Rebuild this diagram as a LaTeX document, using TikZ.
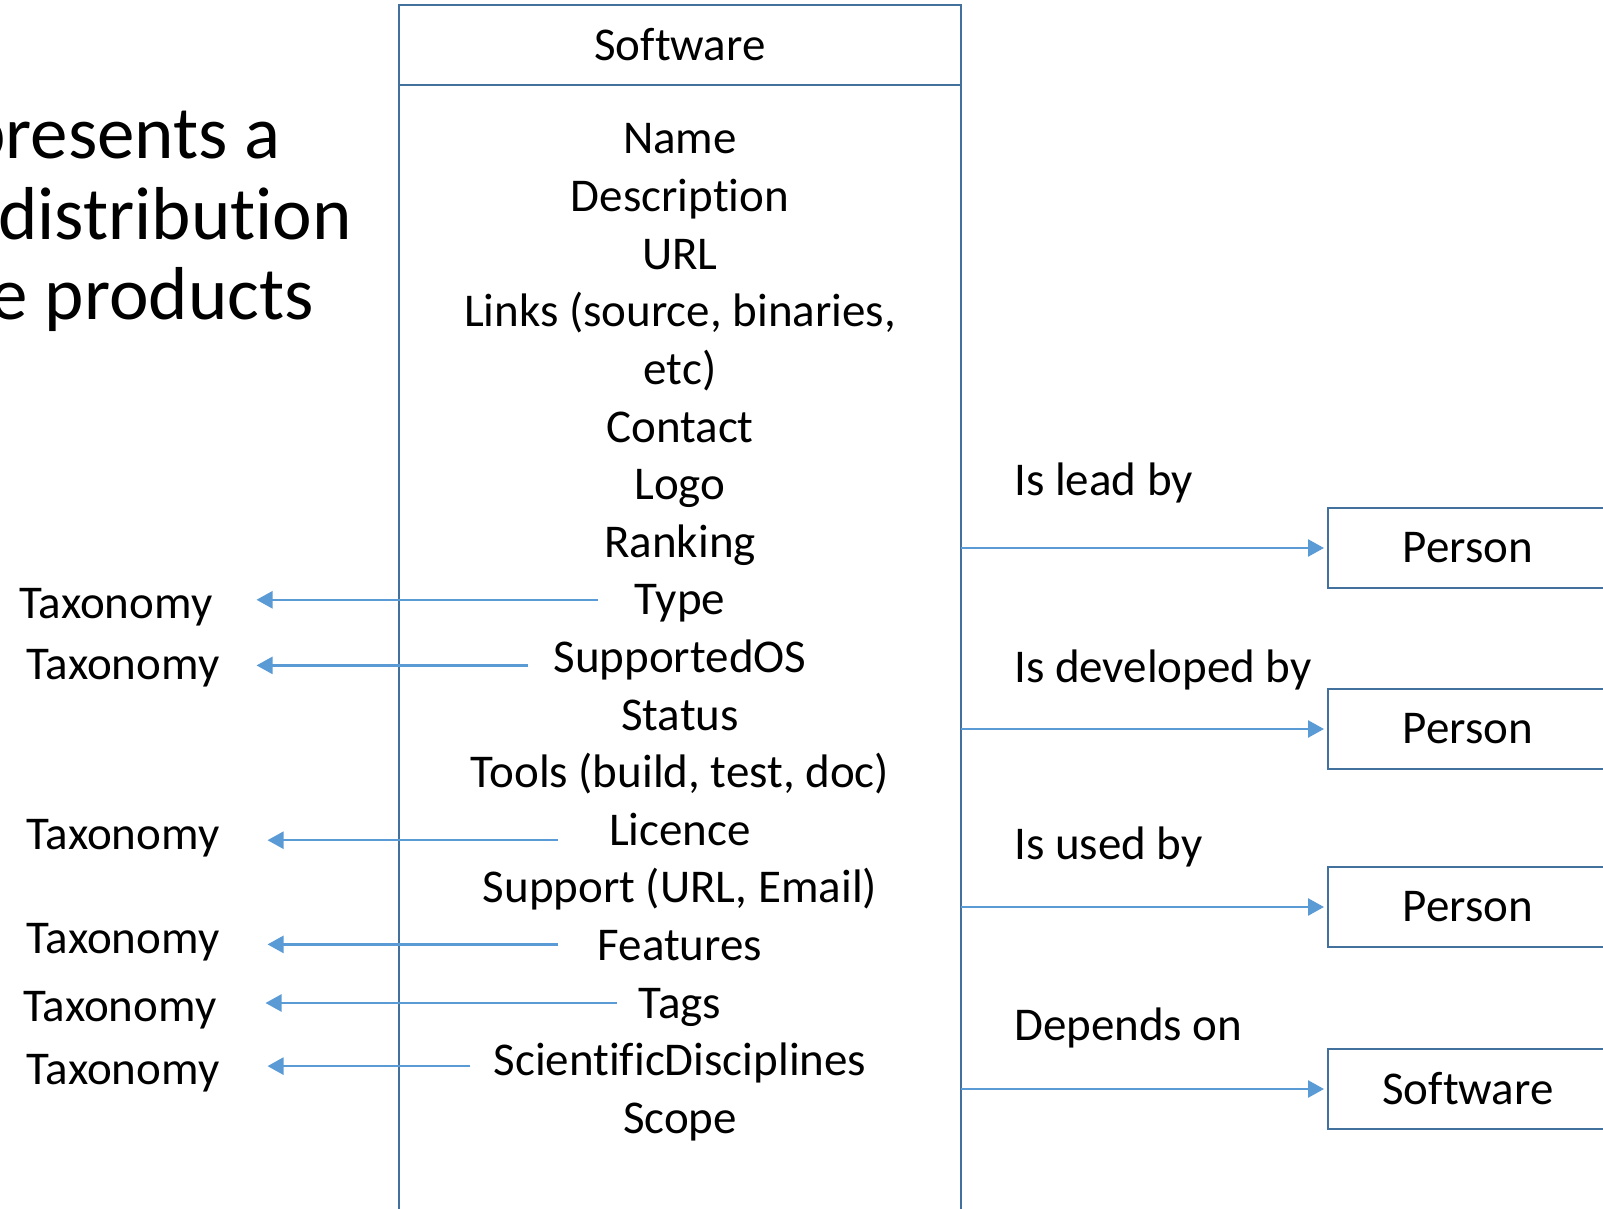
\documentclass[tikz,border=0pt]{standalone}
\usepackage{fontspec}
\setmainfont[Ligatures=NoCommon]{Carlito}
\usetikzlibrary{arrows.meta}
\definecolor{boxblue}{HTML}{41719C}
\definecolor{arrblue}{HTML}{5B9BD5}
\begin{document}
\begin{tikzpicture}[x=1pt,y=-1pt,
  item/.style={font=\fontsize{47}{56}\selectfont, inner sep=0pt, anchor=base},
  lbl/.style={font=\fontsize{47}{56}\selectfont, inner sep=0pt, anchor=base west},
  big/.style={font=\fontsize{75}{88}\selectfont, inner sep=0pt, anchor=base east},
  boxline/.style={draw=boxblue, line width=2.3pt, outer sep=0pt},
  pbox/.style={boxline, font=\fontsize{47}{56}\selectfont, minimum width=280pt, minimum height=80pt, inner sep=0pt},
  arr/.style={draw=arrblue, line width=2.5pt, -{Triangle[length=16pt,width=17pt]}}
]
\useasboundingbox (0,0) rectangle (1603,1209);
\clip (0,0) rectangle (1603,1209);
\fill[white] (0,0) rectangle (1603,1209);

% big cropped text
\node[big] (t1) at (281,159) {presents a};
\node[big] (t2) at (352,240) {distribution};
\node[big] (t3) at (314,319) {e products};

% main class box
\node[boxline, font=\fontsize{47}{56}\selectfont, minimum width=562pt, minimum height=80pt, inner sep=0pt] (hdr) at (680,45) {Software};
\node[boxline, minimum width=562pt, minimum height=1200pt, anchor=north, inner sep=0pt] (body) at (hdr.south) {};

% attributes
\node[item] (name) at (680,154) {Name};
\node[item] (desc) at (680,211.6) {Description};
\node[item] (url) at (680,269.2) {URL};
\node[item] (links) at (680,326.8) {Links (source, binaries,};
\node[item] (etc) at (680,384.4) {etc)};
\node[item] (contact) at (680,442) {Contact};
\node[item] (logo) at (680,499.6) {Logo};
\node[item] (ranking) at (680,557.2) {Ranking};
\node[item] (type) at (680,614.8) {Type};
\node[item] (sos) at (680,672.4) {SupportedOS};
\node[item] (status) at (680,730) {Status};
\node[item] (tools) at (680,787.6) {Tools (build, test, doc)};
\node[item] (lic) at (680,845.2) {Licence};
\node[item] (support) at (680,902.8) {Support (URL, Email)};
\node[item] (feat) at (680,960.4) {Features};
\node[item] (tags) at (680,1018) {Tags};
\node[item] (sci) at (680,1075.6) {ScientificDisciplines};
\node[item] (scope) at (680,1133.2) {Scope};

% taxonomy labels
\node[item] (tax1) at (116,618) {Taxonomy};
\node[item] (tax2) at (123,679.5) {Taxonomy};
\node[item] (tax3) at (123,849) {Taxonomy};
\node[item] (tax4) at (123,953.5) {Taxonomy};
\node[item] (tax5) at (120,1021) {Taxonomy};
\node[item] (tax6) at (123,1084) {Taxonomy};

% left arrows
\draw[arr, shorten >=44pt] ([xshift=-37pt,yshift=15pt]type.base west) -- ([yshift=15pt]type.base west -| tax1.east);
\draw[arr, shorten >=37pt] ([xshift=-25pt,yshift=7pt]sos.base west) -- ([yshift=7pt]sos.base west -| tax2.east);
\draw[arr, shorten >=48pt] ([xshift=-51pt,yshift=5pt]lic.base west) -- ([yshift=5pt]lic.base west -| tax3.east);
\draw[arr, shorten >=48pt] ([xshift=-40pt,yshift=16pt]feat.base west) -- ([yshift=16pt]feat.base west -| tax4.east);
\draw[arr, shorten >=49pt] ([xshift=-22pt,yshift=15pt]tags.base west) -- ([yshift=15pt]tags.base west -| tax5.east);
\draw[arr, shorten >=48pt] ([xshift=-23pt,yshift=9.5pt]sci.base west) -- ([yshift=9.5pt]sci.base west -| tax6.east);

% right side relations
\node[lbl] (l1) at (1014,495) {Is lead by};
\node[lbl] (l2) at (1014,682.5) {Is developed by};
\node[lbl] (l3) at (1014,859) {Is used by};
\node[lbl] (l4) at (1014,1040) {Depends on};

\node[pbox] (p1) at (1468,548) {Person};
\node[pbox] (p2) at (1468,729) {Person};
\node[pbox] (p3) at (1468,907) {Person};
\node[pbox] (p4) at (1468,1089) {Software};

\draw[arr, shorten >=4pt] (body.east |- p1.west) -- (p1.west);
\draw[arr, shorten >=4pt] (body.east |- p2.west) -- (p2.west);
\draw[arr, shorten >=4pt] (body.east |- p3.west) -- (p3.west);
\draw[arr, shorten >=4pt] (body.east |- p4.west) -- (p4.west);
\end{tikzpicture}
\end{document}
